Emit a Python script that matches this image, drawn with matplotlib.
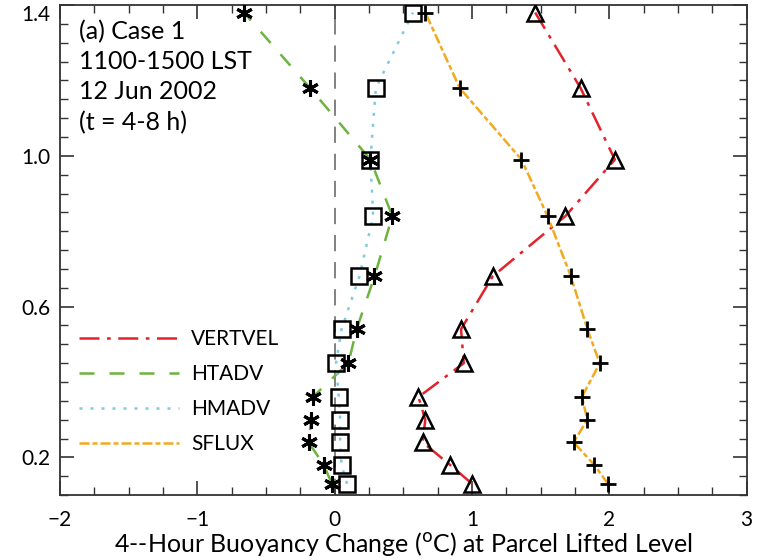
import numpy as np
import matplotlib
matplotlib.use('Agg')
import matplotlib.pyplot as plt
from matplotlib.ticker import MultipleLocator

plt.rcParams['font.family'] = ['Lato', 'DejaVu Sans']

# parcel lifted level (km) of each point
levels = [0.13, 0.18, 0.24, 0.30, 0.36, 0.45, 0.54, 0.68, 0.84, 0.99, 1.18, 1.38]

# buoyancy change (deg C) by process
vertvel = [1.00, 0.84, 0.64, 0.66, 0.61, 0.94, 0.92, 1.15, 1.68, 2.04, 1.79, 1.46]
htadv = [-0.02, -0.08, -0.19, -0.17, -0.16, 0.10, 0.16, 0.29, 0.42, 0.26, -0.18, -0.66]
hmadv = [0.09, 0.05, 0.04, 0.04, 0.03, 0.01, 0.05, 0.18, 0.28, 0.26, 0.30, 0.57]
sflux = [1.99, 1.89, 1.74, 1.84, 1.80, 1.93, 1.84, 1.72, 1.55, 1.36, 0.91, 0.66]

names = ['VERTVEL', 'HTADV', 'HMADV', 'SFLUX']
annot = '(a) Case 1\n1100-1500 LST\n12 Jun 2002\n(t = 4-8 h)'

fig = plt.figure(figsize=(7.69, 5.6), dpi=100)
ax = fig.add_axes([0.078, 0.116, 0.893, 0.875])

ax.axvline(0, color='#777777', lw=1.3, dashes=(9, 6), zorder=1)

styles = [
    (vertvel, '#e3222b', (8, 3, 1.5, 3)),
    (htadv, '#6db33f', (6, 6)),
    (hmadv, '#7ecbe0', (1.2, 3.2)),
    (sflux, '#f2a91e', (4, 1.2, 2, 1.2)),
]
for (vals, col, dsh), name in zip(styles, names):
    ax.plot(vals, levels, color=col, lw=1.8, dashes=dsh, label=name, zorder=2)

# markers on top of the lines
ax.plot(vertvel, levels, ls='none', marker='^', ms=11, mfc='none', mec='k', mew=1.8, zorder=3)
ax.plot(htadv, levels, ls='none', marker=(6, 2, 0), ms=12, mec='k', mew=2.2, zorder=3)
ax.plot(hmadv, levels, ls='none', marker='s', ms=11, mfc='none', mec='k', mew=1.8, zorder=3)
ax.plot(sflux, levels, ls='none', marker='+', ms=11, mec='k', mew=2.0, zorder=3)

ax.set_xlim(-2, 3)
ax.set_ylim(0.1, 1.4)
ax.xaxis.set_major_locator(MultipleLocator(1))
ax.xaxis.set_minor_locator(MultipleLocator(0.25))
ax.set_yticks([0.2, 0.6, 1.0, 1.4])
ax.set_yticklabels(['0.2', '0.6', '1.0', '1.4'])
ax.yaxis.set_minor_locator(MultipleLocator(0.05))
ax.tick_params(which='both', direction='in', top=True, right=True, labelsize=15, color='#333333')
ax.tick_params(which='major', length=10, width=1.2)
ax.tick_params(axis='x', which='major', pad=11)
ax.tick_params(axis='y', which='major', pad=7)
ax.tick_params(which='minor', length=6, width=1.0)
ax.get_yticklabels()[-1].set_va('top')
for s in ax.spines.values():
    s.set_linewidth(1.3)
    s.set_color('#333333')

ax.set_xlabel('4--Hour Buoyancy Change ($^{\\rm o}$C) at Parcel Lifted Level', fontsize=18, labelpad=0)

ax.text(0.028, 0.97, annot, transform=ax.transAxes, ha='left', va='top',
        fontsize=18, linespacing=1.38)

ax.legend(loc='upper left', bbox_to_anchor=(0.0, 0.377), frameon=False, fontsize=15,
          handlelength=4.8, handletextpad=0.6, labelspacing=0.72)

fig.savefig('out.png', dpi=100)
